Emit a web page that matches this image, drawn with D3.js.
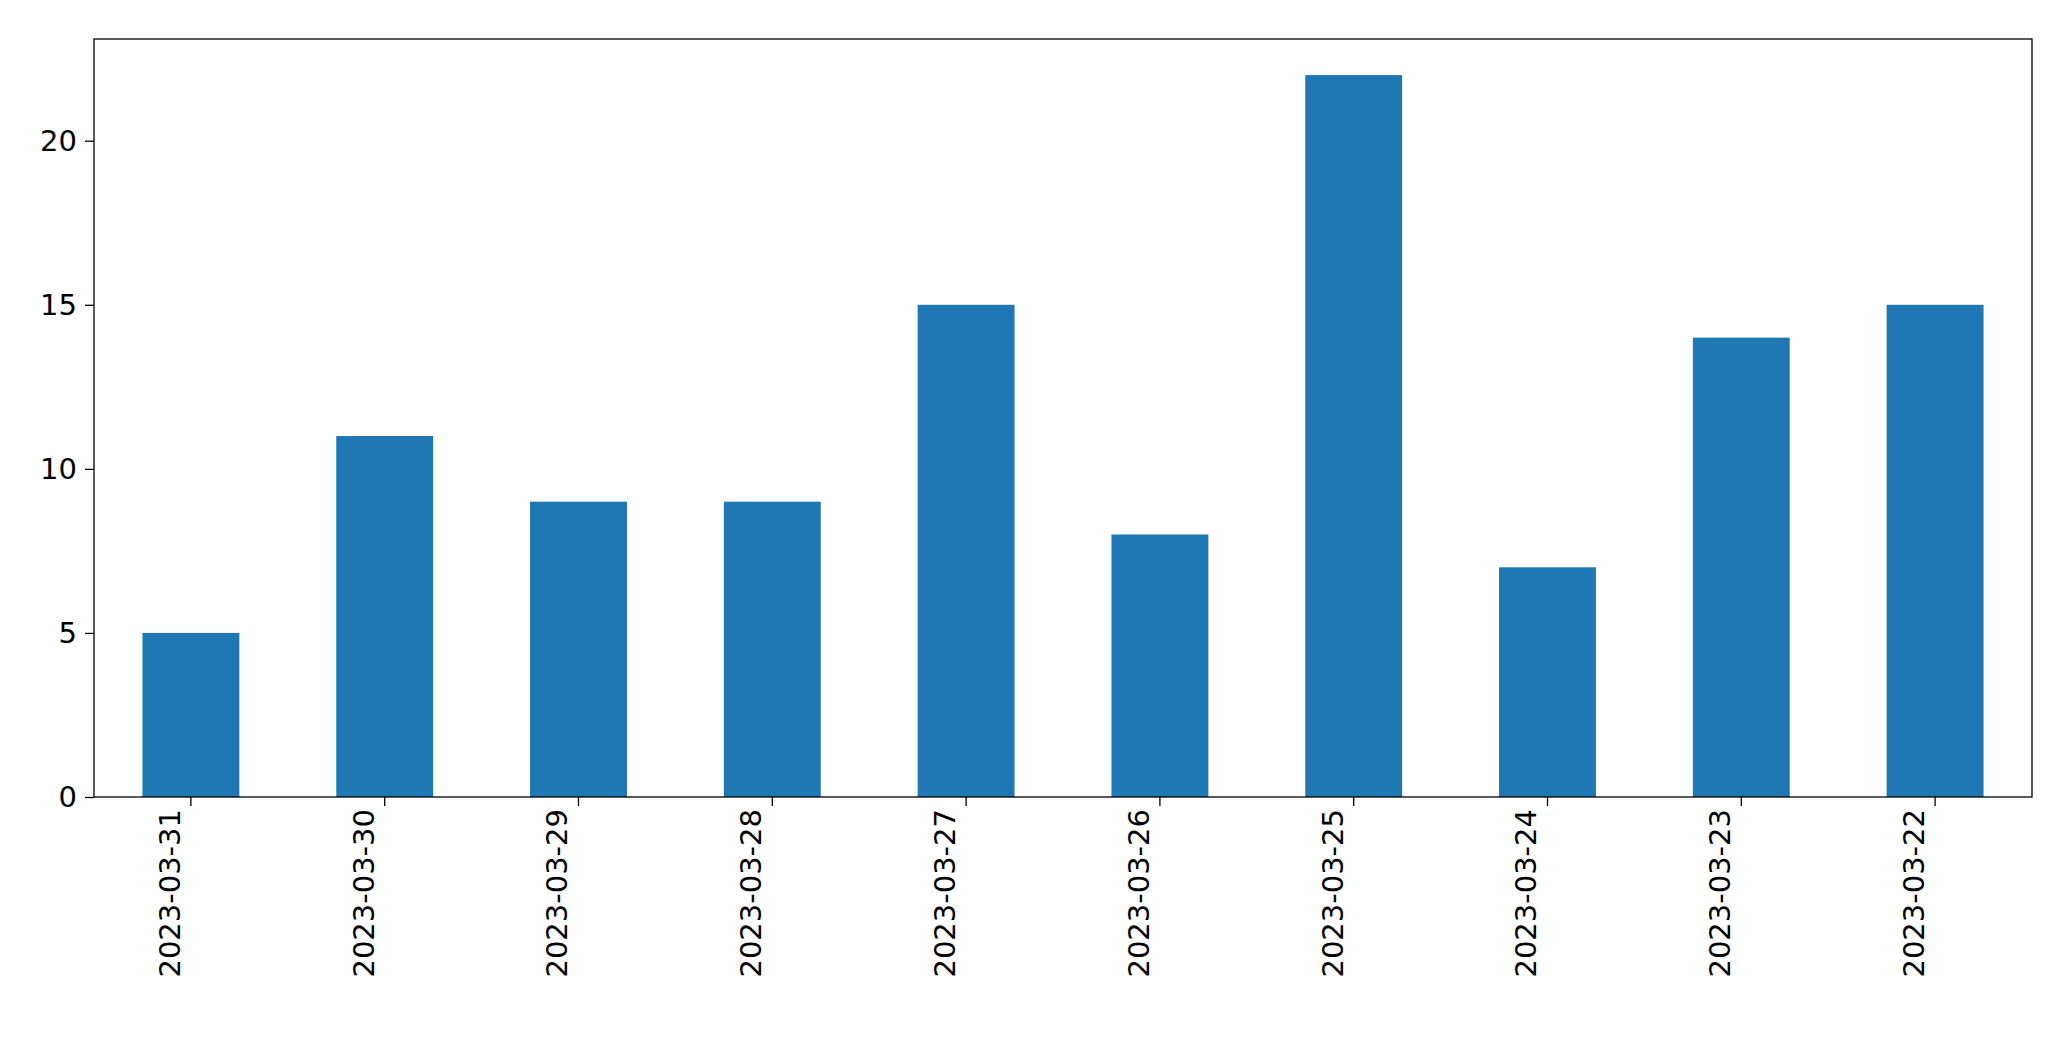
<!DOCTYPE html>
<html><head><meta charset="utf-8">
<script src="https://cdn.jsdelivr.net/npm/d3@7"></script>
<style>body{margin:0;background:#fff}</style></head>
<body><svg id="c" width="2071" height="1061"></svg>
<script>
const categories=["2023-03-31","2023-03-30","2023-03-29","2023-03-28","2023-03-27","2023-03-26","2023-03-25","2023-03-24","2023-03-23","2023-03-22"];
const values=[5,11,9,9,15,8,22,7,14,15];
const yTicks=[0,5,10,15,20];
const m={l:94,r:2032,t:39,b:797};
const svg=d3.select("#c");
const x=d3.scaleBand().domain(categories).range([m.l,m.r]).padding(0);
const y=d3.scaleLinear().domain([0,d3.max(values)*1.05]).range([m.b,m.t]);
const bw=x.bandwidth();
svg.selectAll("rect.bar").data(values).join("rect").attr("class","bar")
 .attr("x",(d,i)=>x(categories[i])+bw*0.25).attr("width",bw*0.5)
 .attr("y",d=>y(d)).attr("height",d=>y(0)-y(d)).attr("fill","#1f77b4");
const font="DejaVu Sans";
const ya=svg.append("g").attr("transform",`translate(${m.l},0)`)
 .call(d3.axisLeft(y).tickValues(yTicks).tickSize(9).tickPadding(8));
ya.select(".domain").remove();
ya.selectAll("text").attr("font-family",font).attr("font-size",29).attr("fill","#000");
ya.selectAll("line").attr("stroke","#000").attr("stroke-width",1.3);
const xa=svg.append("g").attr("transform",`translate(0,${m.b})`)
 .call(d3.axisBottom(x).tickSize(9).tickPadding(8));
xa.select(".domain").remove();
xa.selectAll("line").attr("stroke","#000").attr("stroke-width",1.3);
xa.selectAll("text").attr("font-family",font).attr("font-size",29).attr("fill","#000")
 .attr("transform","rotate(-90)").attr("text-anchor","end").attr("dx","-12").attr("dy","-0.38em").attr("y",0).attr("x",0);
svg.append("rect").attr("x",m.l).attr("y",m.t).attr("width",m.r-m.l).attr("height",m.b-m.t)
 .attr("fill","none").attr("stroke","#000").attr("stroke-width",1.3);
</script></body></html>
